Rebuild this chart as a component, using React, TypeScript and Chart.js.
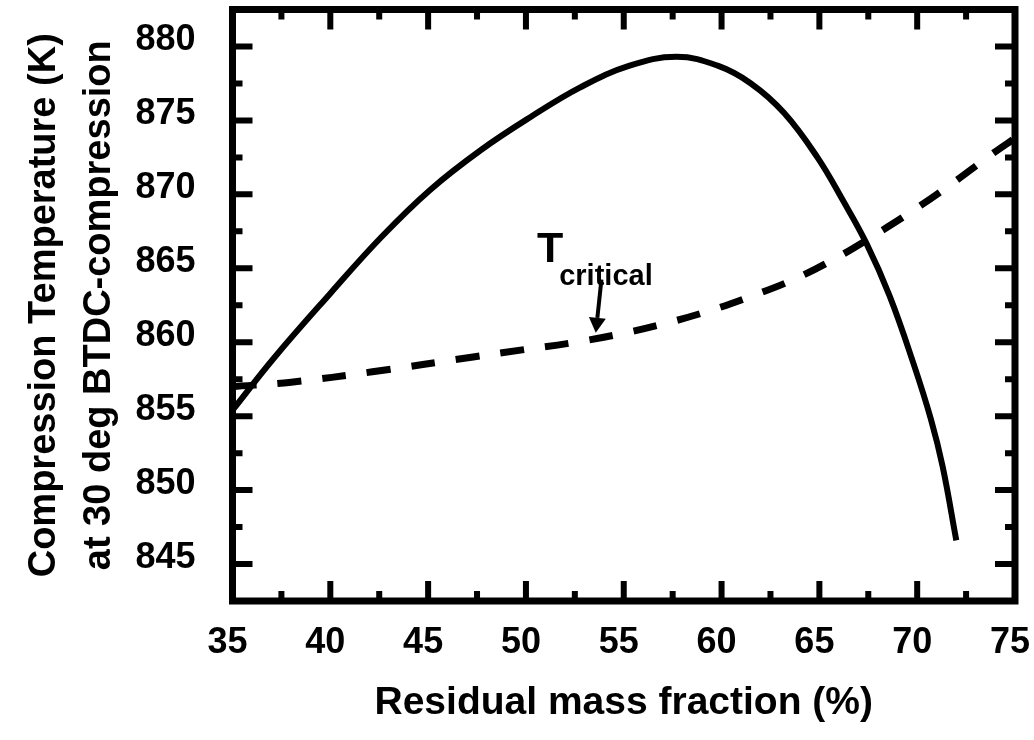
import React, { useEffect, useRef } from "react";
import { Chart, registerables } from "chart.js";

Chart.register(...registerables);

// Compression temperature curve (solid)
const solidX = [35, 37.1, 40, 42.6, 45.1, 47.7, 50.2, 52.8, 55.3, 57.7, 59.8, 61.5, 63.2, 64.9, 66.2, 67.4, 68.6, 69.8, 70.7, 71.3, 72.0];
const solidY = [855.4, 858.9, 863.3, 867.1, 870.3, 873.0, 875.2, 877.25, 878.7, 879.3, 878.7, 877.5, 875.5, 872.5, 869.6, 866.7, 863.1, 858.6, 854.8, 851.6, 846.6];

// T critical curve (dashed)
const dashX = [35, 38.0, 42.15, 47.3, 49.9, 52.3, 54.6, 56.9, 59.2, 61.5, 63.7, 65.8, 67.95, 69.9, 71.8, 73.8, 75];
const dashY = [857.0, 857.3, 858.0, 859.0, 859.5, 859.95, 860.5, 861.2, 862.05, 863.1, 864.25, 865.65, 867.35, 869.0, 870.75, 872.7, 873.8];

// Axis settings / labels
const xMin = 35, xMax = 75, xStep = 2.5, xLabelStep = 5;
const yMin = 842.5, yMax = 882.5, yStep = 2.5, yLabelStep = 5;
const xTitle = "Residual mass fraction (%)";
const yTitle = ["Compression Temperature (K)", "at 30 deg BTDC-compression"];

// Annotation (data coordinates)
const annoMain = "T";
const annoSub = "critical";
const annoMainAt = [50.56, 865.4];
const annoSubAt = [51.7, 863.9];
const arrowFrom = [53.86, 864.24];
const arrowTo = [53.57, 860.64];

const FONT = "'Liberation Sans', Arial, Helvetica, sans-serif";

const isMult = (v: number, m: number) => Math.abs(v / m - Math.round(v / m)) < 1e-6;

const framePlugin = {
  id: "framePlugin",
  afterDatasetsDraw(chart: any) {
    const { ctx, chartArea: a, scales } = chart;
    const xs = scales.x;
    const ys = scales.y;
    ctx.save();
    ctx.strokeStyle = "#000";
    ctx.fillStyle = "#000";
    ctx.lineCap = "butt";
    ctx.lineWidth = 6;
    xs.ticks.forEach((t: any) => {
      if (t.value <= xMin || t.value >= xMax) return;
      const px = xs.getPixelForValue(t.value);
      const len = isMult(t.value, xLabelStep) ? 20 : 10;
      ctx.beginPath();
      ctx.moveTo(px, a.bottom);
      ctx.lineTo(px, a.bottom - len);
      ctx.moveTo(px, a.top);
      ctx.lineTo(px, a.top + len);
      ctx.stroke();
    });
    ys.ticks.forEach((t: any) => {
      if (t.value <= yMin || t.value >= yMax) return;
      const py = ys.getPixelForValue(t.value);
      const len = isMult(t.value, yLabelStep) ? 20 : 10;
      ctx.beginPath();
      ctx.moveTo(a.left, py);
      ctx.lineTo(a.left + len, py);
      ctx.moveTo(a.right, py);
      ctx.lineTo(a.right - len, py);
      ctx.stroke();
    });
    ctx.lineWidth = 7;
    ctx.lineJoin = "miter";
    ctx.strokeRect(a.left, a.top, a.right - a.left, a.bottom - a.top);

    // annotation
    ctx.textBaseline = "alphabetic";
    ctx.textAlign = "left";
    ctx.font = `bold 43px ${FONT}`;
    ctx.fillText(annoMain, xs.getPixelForValue(annoMainAt[0]), ys.getPixelForValue(annoMainAt[1]));
    ctx.font = `bold 29px ${FONT}`;
    ctx.fillText(annoSub, xs.getPixelForValue(annoSubAt[0]), ys.getPixelForValue(annoSubAt[1]));

    const x1 = xs.getPixelForValue(arrowFrom[0]);
    const y1 = ys.getPixelForValue(arrowFrom[1]);
    const x2 = xs.getPixelForValue(arrowTo[0]);
    const y2 = ys.getPixelForValue(arrowTo[1]);
    const ang = Math.atan2(y2 - y1, x2 - x1);
    const headLen = 15;
    const headW = 8.5;
    const bx = x2 - headLen * Math.cos(ang);
    const by = y2 - headLen * Math.sin(ang);
    ctx.lineWidth = 4;
    ctx.beginPath();
    ctx.moveTo(x1, y1);
    ctx.lineTo(bx, by);
    ctx.stroke();
    ctx.beginPath();
    ctx.moveTo(x2, y2);
    ctx.lineTo(bx + headW * Math.sin(ang), by - headW * Math.cos(ang));
    ctx.lineTo(bx - headW * Math.sin(ang), by + headW * Math.cos(ang));
    ctx.closePath();
    ctx.fill();
    ctx.restore();
  },
};

export default function App() {
  const ref = useRef<HTMLCanvasElement | null>(null);

  useEffect(() => {
    if (!ref.current) return;
    const solidData = solidX.map((x, i) => ({ x, y: solidY[i] }));
    const dashData = dashX.map((x, i) => ({ x, y: dashY[i] }));
    const chart = new Chart(ref.current, {
      type: "line",
      data: {
        datasets: [
          {
            label: "Compression temperature",
            data: solidData,
            borderColor: "#000",
            borderWidth: 6,
            pointRadius: 0,
            tension: 0.4,
            fill: false,
          },
          {
            label: "T critical",
            data: dashData,
            borderColor: "#000",
            borderWidth: 7,
            borderDash: [24, 21],
            borderCapStyle: "butt",
            pointRadius: 0,
            tension: 0.4,
            fill: false,
          },
        ],
      },
      options: {
        animation: false,
        responsive: true,
        maintainAspectRatio: false,
        layout: { padding: { left: 0, right: 19, top: 9.5, bottom: 0 } },
        plugins: { legend: { display: false }, tooltip: { enabled: false } },
        scales: {
          x: {
            type: "linear",
            min: xMin,
            max: xMax,
            grid: { display: false, drawTicks: false },
            border: { display: false },
            ticks: {
              stepSize: xStep,
              autoSkip: false,
              maxRotation: 0,
              padding: 20,
              labelOffset: -5,
              color: "#000",
              font: { family: FONT, size: 36, weight: "bold" },
              callback: (v: any) => (isMult(Number(v), xLabelStep) ? String(v) : ""),
            },
            title: {
              display: true,
              text: xTitle,
              color: "#000",
              font: { family: FONT, size: 39, weight: "bold", lineHeight: 1.2 },
              padding: { top: 0, bottom: 13 },
            },
            afterFit: (s: any) => {
              s.height = 139;
              s.paddingLeft = 0;
              s.paddingRight = 0;
            },
          },
          y: {
            type: "linear",
            min: yMin,
            max: yMax,
            grid: { display: false, drawTicks: false },
            border: { display: false },
            ticks: {
              stepSize: yStep,
              autoSkip: false,
              padding: 37,
              labelOffset: -6,
              color: "#000",
              font: { family: FONT, size: 36, weight: "bold" },
              callback: (v: any) => (isMult(Number(v), yLabelStep) ? String(v) : ""),
            },
            title: {
              display: true,
              text: yTitle,
              color: "#000",
              font: { family: FONT, size: 38, weight: "bold", lineHeight: 1.447 },
              padding: { top: 17.5, bottom: 0 },
            },
            afterFit: (s: any) => {
              s.width = 232.5;
              s.paddingTop = 0;
              s.paddingBottom = 0;
            },
          },
        },
      },
      plugins: [framePlugin],
    });
    return () => chart.destroy();
  }, []);

  return (
    <div style={{ position: "absolute", left: 0, top: 0, width: 1034, height: 740, background: "#fff" }}>
      <canvas ref={ref} />
    </div>
  );
}
